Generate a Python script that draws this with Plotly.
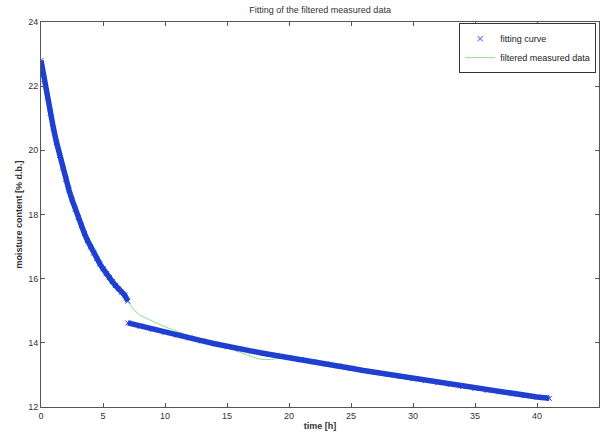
import plotly.graph_objects as go

# fitting curve, first part (0..7 h)
fit1_t = [0, 0.25, 0.5, 0.75, 1, 1.25, 1.5, 1.75, 2, 2.25, 2.5, 2.75, 3, 3.25, 3.5,
          3.75, 4, 4.25, 4.5, 4.75, 5, 5.25, 5.5, 5.75, 6, 6.25, 6.5, 6.75, 7]
fit1_y = [22.80, 22.22, 21.67, 21.16, 20.69, 20.25, 19.84, 19.46, 19.10, 18.77, 18.46,
          18.17, 17.90, 17.65, 17.41, 17.19, 16.99, 16.80, 16.63, 16.46, 16.31, 16.16,
          16.03, 15.91, 15.79, 15.68, 15.58, 15.49, 15.30]

# fitting curve, second part (7..41 h)
fit2_t = list(range(7, 42))
fit2_y = [14.62, 14.52, 14.42, 14.33, 14.24, 14.15, 14.06, 13.97, 13.88, 13.81, 13.74,
          13.67, 13.61, 13.54, 13.47, 13.41, 13.34, 13.28, 13.21, 13.14, 13.08, 13.01,
          12.95, 12.88, 12.82, 12.76, 12.70, 12.64, 12.58, 12.52, 12.47, 12.41, 12.36,
          12.31, 12.27]

# filtered measured data
meas_t = [0, 1, 2, 3, 4, 5, 6, 7, 7.5, 8, 8.5, 9, 9.5, 10, 10.5, 11, 11.5, 12, 13, 14,
          15, 15.5, 16, 16.5, 17, 17.5, 18, 18.5, 19, 19.5, 20, 21, 22, 23, 24, 25, 26,
          27, 28, 29, 30, 31, 32, 33, 34, 35, 36, 37, 38, 39, 40, 41]
meas_y = [22.80, 20.69, 19.10, 17.90, 16.99, 16.31, 15.79, 15.30, 15.02, 14.86, 14.76,
          14.67, 14.58, 14.50, 14.42, 14.35, 14.28, 14.21, 14.08, 13.96, 13.85, 13.78,
          13.70, 13.62, 13.55, 13.50, 13.48, 13.48, 13.51, 13.53, 13.54, 13.48, 13.41,
          13.34, 13.27, 13.21, 13.15, 13.08, 13.02, 12.95, 12.88, 12.82, 12.76, 12.70,
          12.64, 12.58, 12.52, 12.47, 12.41, 12.36, 12.31, 12.27]

BLUE = "#1f3fd0"
GREEN = "#8ee08e"
AXIS = "#555555"
TXT = "#333333"

fig = go.Figure()

fig.add_trace(go.Scatter(
    x=meas_t, y=meas_y, mode="lines", name="filtered measured data",
    line=dict(color=GREEN, width=1), showlegend=False,
))
for t, y in [(fit1_t, fit1_y), (fit2_t, fit2_y)]:
    fig.add_trace(go.Scatter(
        x=t, y=y, mode="lines+markers", showlegend=False,
        line=dict(color=BLUE, width=5.5),
        marker=dict(symbol="x-thin-open", size=5, line=dict(color="#2a55dd", width=1)),
    ))

# legend entries only
fig.add_trace(go.Scatter(
    x=[None], y=[None], mode="markers", name="fitting curve",
    marker=dict(symbol="x-thin-open", size=5, line=dict(color=BLUE, width=1.2)),
))
fig.add_trace(go.Scatter(
    x=[None], y=[None], mode="lines", name="filtered measured data",
    line=dict(color=GREEN, width=1),
))

axis_common = dict(
    showgrid=False, zeroline=False, showline=True, linecolor=AXIS, linewidth=1,
    mirror="ticks", ticks="inside", ticklen=4, tickcolor=AXIS, automargin=False,
    tickfont=dict(size=9, color=TXT),
)

fig.update_layout(
    width=604, height=438,
    paper_bgcolor="white", plot_bgcolor="white",
    margin=dict(l=41, r=5, t=22, b=31),
    font=dict(family="Liberation Sans, Arial, sans-serif", color=TXT),
    title=dict(text="Fitting of the filtered measured data", x=0.53, xanchor="center",
               y=0.977, yanchor="middle", font=dict(size=9, color=TXT)),
    xaxis=dict(axis_common, range=[0, 45], dtick=5,
               title=dict(text="<b>time [h]</b>", font=dict(size=9, color=TXT), standoff=2)),
    yaxis=dict(axis_common, range=[12, 24], dtick=2,
               title=dict(text="<b>moisture content [% d.b.]</b>", font=dict(size=9, color=TXT),
                          standoff=4)),
    legend=dict(x=0.995, xanchor="right", y=0.997, yanchor="top",
                bgcolor="white", bordercolor="#333333", borderwidth=1,
                font=dict(size=9, color="#222222"), tracegroupgap=0,
                itemwidth=30),
)

# drop the default page margin so the figure sits at the window origin
fig.write_html("out.html", config={"displayModeBar": False},
               post_script="document.body.style.margin='0';")
